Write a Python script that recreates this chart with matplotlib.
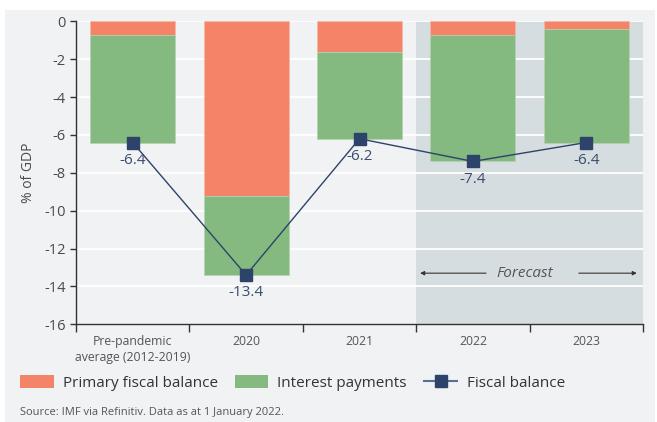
import numpy as np
import matplotlib
matplotlib.use("Agg")
import matplotlib.pyplot as plt
from matplotlib.patches import Rectangle, Patch
from matplotlib.lines import Line2D

plt.rcParams['font.family'] = ['Open Sans', 'DejaVu Sans']

# data (% of GDP)
categories = ["Pre-pandemic\naverage (2012-2019)", "2020", "2021", "2022", "2023"]
primary = [-0.7, -9.2, -1.6, -0.7, -0.4]
interest = [-5.7, -4.2, -4.6, -6.7, -6.0]
fiscal = [-6.4, -13.4, -6.2, -7.4, -6.4]
forecast_from = 3

c_orange = "#f48468"
c_green = "#84b980"
c_navy = "#2e4369"
c_panel = "#f1f2f4"
c_shade = "#d6dde0"
c_text = "#4a4a4a"

fig = plt.figure(figsize=(6.57, 4.22), dpi=100, facecolor="white")
fig.patches.append(Rectangle((5/657, 0), 650/657, 412/422, transform=fig.transFigure,
                             facecolor=c_panel, edgecolor="none", zorder=-10))

ax = fig.add_axes([76/657, 1 - 324.3/422, 567/657, 303/422])
ax.set_facecolor("none")

x = np.arange(len(categories))
ax.axvspan(forecast_from - 0.5, len(categories) - 0.5, color=c_shade, zorder=0, lw=0)

for yv in np.arange(0, -16, -2):
    ax.axhline(yv, color="white", lw=1.3, zorder=1)

w = 0.75
ax.bar(x, primary, w, color=c_orange, edgecolor="#f7b6a6", linewidth=0.5, zorder=2)
ax.bar(x, interest, w, bottom=primary, color=c_green, edgecolor="#b5d4b1", linewidth=0.5, zorder=2)
ax.plot(x, fiscal, color=c_navy, lw=1.0, marker="s", markersize=8, zorder=4)

for xi, v in zip(x, fiscal):
    ax.text(xi, v - 0.55, f"{v:.1f}", ha="center", va="top", color="#3b4d6e",
            fontsize=11, zorder=5)

# forecast annotation
fy = -13.3
mid = (forecast_from - 0.5 + len(categories) - 0.5) / 2
ax.annotate("", xy=(forecast_from - 0.5 + 0.01, fy), xytext=(mid - 0.36, fy),
            arrowprops=dict(arrowstyle="-|>", color="#333333", lw=0.8, mutation_scale=6))
ax.annotate("", xy=(len(categories) - 0.5 - 0.03, fy), xytext=(mid + 0.41, fy),
            arrowprops=dict(arrowstyle="-|>", color="#333333", lw=0.8, mutation_scale=6))
ax.text(mid - 0.04, fy, "Forecast", ha="center", va="center", style="italic",
        fontsize=11, color="#555555")

ax.set_xlim(-0.5, len(categories) - 0.5)
ax.set_ylim(-16, 0)
ax.set_yticks(np.arange(0, -17, -2))
ax.set_yticklabels([str(int(v)) if v == 0 else f"-{int(-v)}" for v in np.arange(0, -17, -2)])
ax.set_xticks(x)
ax.set_xticklabels(categories, fontsize=8.8, color="#555555", linespacing=1.3)
ax.set_xticks(np.arange(-0.5, len(categories)), minor=True)
ax.tick_params(axis="x", which="major", length=0, pad=8)
ax.tick_params(axis="x", which="minor", length=6, width=1, color="#333333")
ax.tick_params(axis="y", length=4, width=1, color="#333333", labelsize=10.5, labelcolor=c_text)
ax.set_ylabel("% of GDP", fontsize=10, color=c_text, labelpad=6)

for s in ["top", "right"]:
    ax.spines[s].set_visible(False)
for s in ["left", "bottom"]:
    ax.spines[s].set_color("#333333")
    ax.spines[s].set_linewidth(1.0)
    ax.spines[s].set_zorder(6)

handles = [Patch(facecolor=c_orange, edgecolor="none"),
           Patch(facecolor=c_green, edgecolor="none"),
           Line2D([0], [0], color="#5a6f94", lw=1.5, marker="s", markersize=8,
                  markerfacecolor=c_navy, markeredgecolor=c_navy)]
labels = ["Primary fiscal balance", "Interest payments", "Fiscal balance"]
fig.legend(handles, labels, loc="center left", bbox_to_anchor=(20/657, 1 - 383/422),
           ncol=3, frameon=False, fontsize=11, handlelength=2.2, handleheight=0.9,
           columnspacing=1.1, handletextpad=0.6, borderpad=0, borderaxespad=0,
           labelcolor="#333333")

fig.text(20/657, 1 - 413/422, "Source: IMF via Refinitiv. Data as at 1 January 2022.",
         fontsize=8, color="#555555", va="center")

fig.savefig("out.png", dpi=100, facecolor="white")
